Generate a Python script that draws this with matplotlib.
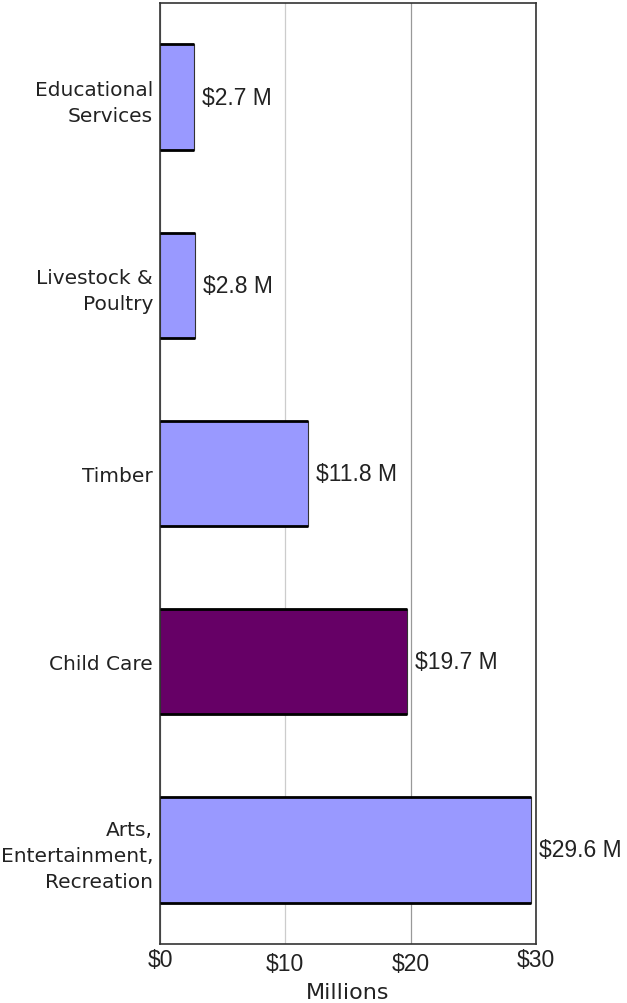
import matplotlib.pyplot as plt
import numpy as np

# Data (top to bottom as drawn)
categories = ["Educational\nServices", "Livestock &\nPoultry", "Timber",
              "Child Care", "Arts,\nEntertainment,\nRecreation"]
values = [2.7, 2.8, 11.8, 19.7, 29.6]
value_labels = ["$2.7 M", "$2.8 M", "$11.8 M", "$19.7 M", "$29.6 M"]
highlight = "Child Care"
tick_values = [0, 10, 20, 30]
tick_labels = ["$0", "$10", "$20", "$30"]

base_color = "#9999FF"
hi_color = "#660066"

fig = plt.figure(figsize=(6.27, 10.04), dpi=100)
ax = fig.add_axes([160 / 627, 1 - 945 / 1004, 376 / 627, 941 / 1004])

y = np.arange(len(categories))[::-1]
colors = [hi_color if c == highlight else base_color for c in categories]
bars = ax.barh(y, values, height=0.56, color=colors, edgecolor="#333333",
               linewidth=0.8, zorder=3)

# thick top/bottom edges like the original
for b in bars:
    x0, y0 = b.get_x(), b.get_y()
    w, h = b.get_width(), b.get_height()
    ax.plot([x0, x0 + w], [y0, y0], color="black", lw=2, zorder=4,
            solid_capstyle="butt")
    ax.plot([x0, x0 + w], [y0 + h, y0 + h], color="black", lw=2, zorder=4,
            solid_capstyle="butt")

for b, lab in zip(bars, value_labels):
    ax.annotate(lab, (b.get_width(), b.get_y() + b.get_height() / 2),
                xytext=(6, 0), textcoords="offset points", va="center",
                ha="left", fontsize=16.5, family="Liberation Sans",
                color="#222222", annotation_clip=False)

ax.set_xlim(0, 30)
ax.set_ylim(-0.5, len(categories) - 0.5)
ax.set_yticks(y)
ax.set_yticklabels(categories, fontsize=14.5, family="DejaVu Sans",
                   color="#222222", linespacing=1.45)
ax.tick_params(axis="y", length=0, pad=5)

ax.set_xticks(tick_values)
ax.set_xticklabels(tick_labels, fontsize=16.5, family="Liberation Sans",
                   color="#222222")
ax.tick_params(axis="x", length=0)
for t, p in zip(ax.xaxis.get_major_ticks(), [3, 6, 6, 3]):
    t.set_pad(p)

ax.grid(axis="x", color="#999999", lw=0.9, zorder=1)
ax.xaxis.get_gridlines()[1].set_color("#cccccc")
for s in ax.spines.values():
    s.set_color("#333333")
    s.set_linewidth(1.2)

ax.set_xlabel("Millions", fontsize=16, family="DejaVu Sans", color="#222222",
              labelpad=5)

fig.savefig("out.png", dpi=100)
